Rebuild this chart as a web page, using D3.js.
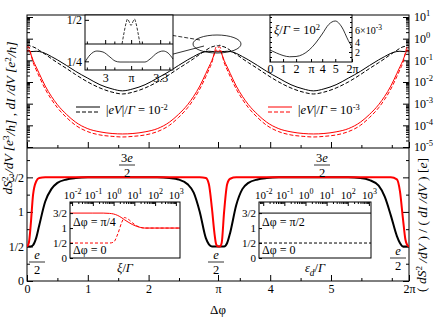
<!DOCTYPE html>
<html>
<head>
<meta charset="utf-8">
<script src="https://cdn.jsdelivr.net/npm/d3@7"></script>
<style>
body { margin: 0; background: #fff; }
text { font-family: "Liberation Serif", "DejaVu Serif", serif; fill: #000; }
</style>
</head>
<body>
<svg id="fig" width="436" height="319"></svg>
<script>
var PI = Math.PI;

// sample positions along delta phi (0 .. 2pi)
var phi = [0, 0.03, 0.06, 0.1, 0.15, 0.2, 0.3, 0.4, 0.5, 0.65, 0.8, 1.0, 1.2, 1.4, 1.571,
  1.742, 1.942, 2.142, 2.342, 2.492, 2.642, 2.742, 2.842, 2.942, 2.992, 3.042, 3.082, 3.112, 3.142,
  3.172, 3.202, 3.242, 3.292, 3.342, 3.442, 3.542, 3.642, 3.792, 3.942, 4.142, 4.342, 4.542, 4.712,
  4.884, 5.084, 5.284, 5.484, 5.634, 5.784, 5.884, 5.984, 6.084, 6.134, 6.184, 6.224, 6.254, 6.283];

// top panel, |eV|/Gamma = 1e-2 (black)
var blackSolid = [0.25, 0.25, 0.252, 0.256, 0.262, 0.255, 0.21, 0.15, 0.105, 0.058, 0.031, 0.015, 0.0075, 0.0048, 0.0039,
  0.0048, 0.0075, 0.015, 0.031, 0.058, 0.105, 0.15, 0.21, 0.255, 0.262, 0.256, 0.252, 0.25, 0.25,
  0.25, 0.252, 0.256, 0.262, 0.255, 0.21, 0.15, 0.105, 0.058, 0.031, 0.015, 0.0075, 0.0048, 0.0039,
  0.0048, 0.0075, 0.015, 0.031, 0.058, 0.105, 0.15, 0.21, 0.255, 0.262, 0.256, 0.252, 0.25, 0.25];
var blackDashed = [0.46, 0.5, 0.45, 0.42, 0.36, 0.29, 0.19, 0.12, 0.078, 0.042, 0.022, 0.010, 0.0053, 0.0034, 0.0028,
  0.0034, 0.0053, 0.010, 0.022, 0.042, 0.078, 0.12, 0.19, 0.29, 0.36, 0.42, 0.45, 0.5, 0.46,
  0.5, 0.45, 0.42, 0.36, 0.29, 0.19, 0.12, 0.078, 0.042, 0.022, 0.010, 0.0053, 0.0034, 0.0028,
  0.0034, 0.0053, 0.010, 0.022, 0.042, 0.078, 0.12, 0.19, 0.29, 0.36, 0.42, 0.45, 0.5, 0.46];
// top panel, |eV|/Gamma = 1e-3 (red)
var redSolid = [0.25, 0.3, 0.2, 0.1, 0.05, 0.025, 0.0065, 0.0022, 0.0009, 0.00032, 0.00014, 0.00007, 0.00005, 0.000042, 0.00004,
  0.000042, 0.00005, 0.00007, 0.00014, 0.00032, 0.0009, 0.0022, 0.0065, 0.025, 0.05, 0.1, 0.2, 0.3, 0.25,
  0.3, 0.2, 0.1, 0.05, 0.025, 0.0065, 0.0022, 0.0009, 0.00032, 0.00014, 0.00007, 0.00005, 0.000042, 0.00004,
  0.000042, 0.00005, 0.00007, 0.00014, 0.00032, 0.0009, 0.0022, 0.0065, 0.025, 0.05, 0.1, 0.2, 0.3, 0.25];
var redDashed = [0.4, 0.42, 0.22, 0.08, 0.037, 0.018, 0.0047, 0.0016, 0.00065, 0.00023, 0.0001, 0.000051, 0.000036, 0.000031, 0.000029,
  0.000031, 0.000036, 0.000051, 0.0001, 0.00023, 0.00065, 0.0016, 0.0047, 0.018, 0.037, 0.08, 0.22, 0.42, 0.4,
  0.42, 0.22, 0.08, 0.037, 0.018, 0.0047, 0.0016, 0.00065, 0.00023, 0.0001, 0.000051, 0.000036, 0.000031, 0.000029,
  0.000031, 0.000036, 0.000051, 0.0001, 0.00023, 0.00065, 0.0016, 0.0047, 0.018, 0.037, 0.08, 0.22, 0.42, 0.4];

// bottom panel, ratio (dS/dV)/(dI/dV) in units of e
var blackRatio = [0.5, 0.5, 0.5, 0.52, 0.62, 0.8, 1.15, 1.33, 1.42, 1.47, 1.49, 1.5, 1.5, 1.5, 1.5,
  1.5, 1.5, 1.5, 1.49, 1.47, 1.40, 1.28, 1.0, 0.62, 0.53, 0.5, 0.5, 0.5, 0.5,
  0.5, 0.5, 0.5, 0.55, 0.7, 1.1, 1.33, 1.42, 1.47, 1.49, 1.5, 1.5, 1.5, 1.5,
  1.5, 1.5, 1.5, 1.49, 1.46, 1.38, 1.22, 0.95, 0.65, 0.55, 0.5, 0.5, 0.5, 0.5];
var redRatio = [0.5, 0.55, 0.8, 1.25, 1.44, 1.49, 1.5, 1.5, 1.5, 1.5, 1.5, 1.5, 1.5, 1.5, 1.5,
  1.5, 1.5, 1.5, 1.5, 1.5, 1.5, 1.5, 1.5, 1.49, 1.4, 1.05, 0.7, 0.53, 0.5,
  0.5, 0.55, 1.0, 1.4, 1.48, 1.5, 1.5, 1.5, 1.5, 1.5, 1.5, 1.5, 1.5, 1.5,
  1.5, 1.5, 1.5, 1.5, 1.5, 1.5, 1.5, 1.5, 1.47, 1.3, 0.9, 0.6, 0.52, 0.5];

// inset near pi (top left)
var zoomPhiSolid = [2.89, 2.917, 2.955, 2.988, 3.026, 3.054, 3.081, 3.135, 3.217, 3.245, 3.283, 3.316, 3.343, 3.37];
var zoomSolid = [0.2492, 0.2573, 0.2619, 0.2608, 0.2550, 0.2504, 0.2492, 0.2492, 0.2492, 0.2527, 0.2596, 0.2619, 0.2596, 0.2527];
var zoomPhiDashed = [3.092, 3.103, 3.114, 3.122, 3.13, 3.141, 3.152, 3.16, 3.168, 3.179, 3.19];
var zoomDashed = [0.35, 0.42, 0.48, 0.505, 0.49, 0.465, 0.49, 0.505, 0.48, 0.42, 0.35];

// inset xi/Gamma = 1e2 (top right), values in units of 1e-3
var xiPhi = [0, 0.5, 1, 1.5, 2, 2.5, 3, 3.5, 4, 4.5, 5, 5.5, 6, 6.283];
var xiVal = [2.4, 1.8, 1.3, 1.05, 1.1, 1.5, 2.4, 3.8, 5.6, 7.5, 8.2, 7.0, 4.3, 3.0];

// inset vs xi/Gamma (bottom left), log10 of xi/Gamma
var xiLog = [-2.1, -1, -0.5, -0.2, 0, 0.2, 0.4, 0.52, 0.7, 0.9, 1.1, 1.3, 1.5, 2, 3, 3.2];
var pi4Ratio = [1.5, 1.5, 1.5, 1.49, 1.47, 1.42, 1.34, 1.28, 1.2, 1.12, 1.06, 1.02, 1.0, 1.0, 1.0, 1.0];
var zeroRatio = [0.5, 0.5, 0.5, 0.5, 0.53, 0.8, 1.2, 1.35, 1.3, 1.18, 1.08, 1.02, 1.0, 1.0, 1.0, 1.0];

// inset vs eps_d/Gamma (bottom right)
var epsLog = [-2.2, 3.1];
var pi2Ratio = [1.5, 1.5];
var eps0Ratio = [0.5, 0.5];

var svg = d3.select("#fig");

var x = d3.scaleLinear().domain([0, 2 * PI]).range([27, 409]);
var yTop = d3.scaleLog().domain([1e-5, 10]).range([147, 17]);
var yBot = d3.scaleLinear().domain([0, 1.925]).range([281, 148]);

// helper for mixed italic / superscript / subscript text
function rich(sel, parts, size) {
  parts.forEach(function (p) {
    var t = sel.append("tspan").text(p[0]);
    var st = p[1] || "";
    if (st.indexOf("i") >= 0) t.attr("font-style", "italic");
    if (st.indexOf("sup") >= 0) t.attr("dy", -size * 0.4).attr("font-size", size * 0.68);
    if (st.indexOf("sub") >= 0) t.attr("dy", size * 0.3).attr("font-size", size * 0.75);
    if (st.indexOf("down") >= 0) t.attr("dy", size * 0.4);
    if (st.indexOf("up") >= 0) t.attr("dy", -size * 0.3);
  });
  return sel;
}

function frac(g, cx, cy, num, den, size) {
  g.append("text").attr("x", cx).attr("y", cy - 3).attr("text-anchor", "middle")
    .attr("font-size", size).call(function (s) { rich(s, num, size); });
  g.append("line").attr("x1", cx - 8).attr("x2", cx + 8).attr("y1", cy).attr("y2", cy)
    .attr("stroke", "#000").attr("stroke-width", 0.8);
  g.append("text").attr("x", cx).attr("y", cy + size - 1).attr("text-anchor", "middle")
    .attr("font-size", size).text(den);
}

function logMinor(lo, hi) {
  var out = [];
  for (var k = lo; k < hi; k++)
    for (var m = 2; m < 10; m++) out.push(m * Math.pow(10, k));
  return out;
}

function styleAxis(g) {
  g.select(".domain").remove();
  g.selectAll(".tick line").attr("stroke", "#000");
  g.selectAll(".tick text").attr("font-family", "Liberation Serif").attr("font-size", 12).attr("fill", "#000");
}

// x axes
var xMajor = [0, 1, 2, PI, 4, 5, 2 * PI];
var xNames = ["0", "1", "2", "\u03c0", "4", "5", "2\u03c0"];
var xMinor = [0.5, 1.5, 2.5, 3.5, 4.5, 5.5, 6];

svg.append("g").attr("transform", "translate(0,281)")
  .call(d3.axisBottom(x).tickValues(xMajor).tickSize(-6).tickPadding(3)
    .tickFormat(function (d, i) { return xNames[i]; }))
  .call(styleAxis);
svg.append("g").attr("transform", "translate(0,281)")
  .call(d3.axisBottom(x).tickValues(xMinor).tickSize(-3).tickFormat(""))
  .call(styleAxis);
svg.append("g").attr("transform", "translate(0,148)")
  .call(d3.axisBottom(x).tickValues(xMajor).tickSize(-6).tickFormat(""))
  .call(styleAxis);
svg.append("g").attr("transform", "translate(0,148)")
  .call(d3.axisBottom(x).tickValues(xMinor).tickSize(-3).tickFormat(""))
  .call(styleAxis);

// top panel y axes (log)
var decades = [1e-5, 1e-4, 1e-3, 1e-2, 1e-1, 1, 10];
svg.append("g").attr("transform", "translate(27,0)")
  .call(d3.axisLeft(yTop).tickValues(decades).tickSize(-6).tickFormat(""))
  .call(styleAxis);
svg.append("g").attr("transform", "translate(27,0)")
  .call(d3.axisLeft(yTop).tickValues(logMinor(-5, 1)).tickSize(-3).tickFormat(""))
  .call(styleAxis);
var rightTop = svg.append("g").attr("transform", "translate(409,0)")
  .call(d3.axisRight(yTop).tickValues(decades).tickSize(-6).tickPadding(5))
  .call(styleAxis);
rightTop.selectAll(".tick text").each(function (d) {
  var t = d3.select(this).text("10");
  t.append("tspan").attr("dy", -5).attr("font-size", 8.5).text(Math.round(Math.log10(d)));
});
svg.append("g").attr("transform", "translate(409,0)")
  .call(d3.axisRight(yTop).tickValues(logMinor(-5, 1)).tickSize(-3).tickFormat(""))
  .call(styleAxis);

// bottom panel y axes
var bMajor = [0, 0.5, 1, 1.5];
var bNames = ["0", "1/2", "1", "3/2"];
var bMinor = [0.25, 0.75, 1.25, 1.75];
svg.append("g").attr("transform", "translate(27,0)")
  .call(d3.axisLeft(yBot).tickValues(bMajor).tickSize(-6).tickPadding(3)
    .tickFormat(function (d, i) { return bNames[i]; }))
  .call(styleAxis);
svg.append("g").attr("transform", "translate(27,0)")
  .call(d3.axisLeft(yBot).tickValues(bMinor).tickSize(-3).tickFormat(""))
  .call(styleAxis);
svg.append("g").attr("transform", "translate(409,0)")
  .call(d3.axisRight(yBot).tickValues(bMajor).tickSize(-6).tickFormat(""))
  .call(styleAxis);
svg.append("g").attr("transform", "translate(409,0)")
  .call(d3.axisRight(yBot).tickValues(bMinor).tickSize(-3).tickFormat(""))
  .call(styleAxis);

// frame
svg.append("rect").attr("x", 27).attr("y", 15).attr("width", 382).attr("height", 266)
  .attr("fill", "none").attr("stroke", "#000").attr("stroke-width", 1);
svg.append("line").attr("x1", 27).attr("x2", 409).attr("y1", 148).attr("y2", 148)
  .attr("stroke", "#000");

svg.append("clipPath").attr("id", "clipTop").append("rect")
  .attr("x", 27).attr("y", 15).attr("width", 382).attr("height", 133);
svg.append("clipPath").attr("id", "clipBot").append("rect")
  .attr("x", 27).attr("y", 148).attr("width", 382).attr("height", 133);

var lineTop = function (vals) {
  return d3.line().x(function (d, i) { return x(phi[i]); })
    .y(function (d) { return yTop(d); }).curve(d3.curveMonotoneX)(vals);
};
var lineBot = function (vals) {
  return d3.line().x(function (d, i) { return x(phi[i]); })
    .y(function (d) { return yBot(d); }).curve(d3.curveMonotoneX)(vals);
};

var gTop = svg.append("g").attr("clip-path", "url(#clipTop)");
[[blackSolid, "#000", null], [blackDashed, "#000", "4,2"], [redSolid, "#f00", null], [redDashed, "#f00", "4,2"]]
  .forEach(function (s) {
    gTop.append("path").attr("d", lineTop(s[0])).attr("fill", "none")
      .attr("stroke", s[1]).attr("stroke-width", 1).attr("stroke-dasharray", s[2]);
  });

var gBot = svg.append("g").attr("clip-path", "url(#clipBot)");
gBot.append("path").attr("d", lineBot(blackRatio)).attr("fill", "none").attr("stroke", "#000").attr("stroke-width", 2);
gBot.append("path").attr("d", lineBot(redRatio)).attr("fill", "none").attr("stroke", "#f00").attr("stroke-width", 2);

// legends
function legend(x0, y0, col, expo) {
  svg.append("line").attr("x1", x0).attr("x2", x0 + 24).attr("y1", y0).attr("y2", y0).attr("stroke", col);
  svg.append("line").attr("x1", x0).attr("x2", x0 + 24).attr("y1", y0 + 5).attr("y2", y0 + 5)
    .attr("stroke", col).attr("stroke-dasharray", "4,2");
  var t = svg.append("text").attr("x", x0 + 30).attr("y", y0 + 7).attr("font-size", 12.5);
  rich(t, [["|", ""], ["eV", "i"], ["|/", ""], ["\u0393", "i"], [" = 10", ""], [expo, "sup"]], 12.5);
}
legend(76, 107, "#000", "-2");
legend(268, 107, "#f00", "-3");

// ellipse and arrows
svg.append("ellipse").attr("cx", 217).attr("cy", 44).attr("rx", 24).attr("ry", 9)
  .attr("fill", "none").attr("stroke", "#000").attr("stroke-width", 0.8);
var defs = svg.append("defs");
defs.append("marker").attr("id", "arr").attr("viewBox", "0 0 10 10").attr("refX", 10).attr("refY", 5)
  .attr("markerWidth", 7).attr("markerHeight", 7).attr("orient", "auto")
  .append("path").attr("d", "M0,1 L10,5 L0,9 Z").attr("fill", "#000");
svg.append("line").attr("x1", 200).attr("y1", 40).attr("x2", 158).attr("y2", 33)
  .attr("stroke", "#000").attr("stroke-width", 0.8).attr("stroke-dasharray", "4,2").attr("marker-end", "url(#arr)");
svg.append("line").attr("x1", 204).attr("y1", 46).attr("x2", 158).attr("y2", 58)
  .attr("stroke", "#000").attr("stroke-width", 0.8).attr("marker-end", "url(#arr)");

// inset: zoom near pi
var izx = d3.scaleLinear().domain([2.89, 3.37]).range([85, 173]);
var izTop = d3.scaleLinear().domain([0.35, 0.53]).range([44, 15]);
var izBot = d3.scaleLinear().domain([0.24, 0.27]).range([70, 44]);
var iz = svg.append("g");
iz.append("rect").attr("x", 85).attr("y", 15).attr("width", 88).attr("height", 55).attr("fill", "#fff");
iz.append("clipPath").attr("id", "clipIz").append("rect").attr("x", 85).attr("y", 15).attr("width", 88).attr("height", 29);
iz.append("path").attr("clip-path", "url(#clipIz)")
  .attr("d", d3.line().x(function (d, i) { return izx(zoomPhiDashed[i]); }).y(function (d) { return izTop(d); })
    .curve(d3.curveMonotoneX)(zoomDashed))
  .attr("fill", "none").attr("stroke", "#000").attr("stroke-width", 0.8).attr("stroke-dasharray", "3,1.5");
iz.append("path")
  .attr("d", d3.line().x(function (d, i) { return izx(zoomPhiSolid[i]); }).y(function (d) { return izBot(d); })
    .curve(d3.curveMonotoneX)(zoomSolid))
  .attr("fill", "none").attr("stroke", "#000").attr("stroke-width", 0.8);
[44, 70].forEach(function (yy) {
  iz.append("g").attr("transform", "translate(0," + yy + ")")
    .call(d3.axisBottom(izx).tickValues([3, PI, 3.3]).tickSize(-4).tickFormat(""))
    .call(styleAxis);
  iz.append("g").attr("transform", "translate(0," + yy + ")")
    .call(d3.axisBottom(izx).tickValues([2.9, 3.05, 3.2, 3.35]).tickSize(-2.5).tickFormat(""))
    .call(styleAxis);
});
iz.append("g").attr("transform", "translate(0,70)")
  .call(d3.axisBottom(izx).tickValues([3, PI, 3.3]).tickSize(0).tickPadding(3)
    .tickFormat(function (d, i) { return ["3", "\u03c0", "3.3"][i]; }))
  .call(styleAxis);
iz.append("g").attr("transform", "translate(85,0)")
  .call(d3.axisLeft(izTop).tickValues([0.5]).tickSize(-4).tickPadding(3).tickFormat(function () { return "1/2"; }))
  .call(styleAxis);
iz.append("g").attr("transform", "translate(85,0)")
  .call(d3.axisLeft(izBot).tickValues([0.25]).tickSize(-4).tickPadding(3).tickFormat(function () { return "1/4"; }))
  .call(styleAxis);
iz.append("rect").attr("x", 85).attr("y", 15).attr("width", 88).attr("height", 55)
  .attr("fill", "none").attr("stroke", "#000");
iz.append("line").attr("x1", 85).attr("x2", 173).attr("y1", 44).attr("y2", 44).attr("stroke", "#000");

// inset: xi/Gamma = 1e2
var ixx = d3.scaleLinear().domain([0, 2 * PI]).range([270, 352]);
var ixy = d3.scaleLinear().domain([0, 9.4]).range([62, 15]);
var ix = svg.append("g");
ix.append("rect").attr("x", 270).attr("y", 15).attr("width", 82).attr("height", 47).attr("fill", "#fff");
ix.append("path")
  .attr("d", d3.line().x(function (d, i) { return ixx(xiPhi[i]); }).y(function (d) { return ixy(d); })
    .curve(d3.curveMonotoneX)(xiVal))
  .attr("fill", "none").attr("stroke", "#000").attr("stroke-width", 0.8);
ix.append("g").attr("transform", "translate(0,62)")
  .call(d3.axisBottom(ixx).tickValues([0, 1, 2, PI, 4, 5, 2 * PI]).tickSize(-3).tickPadding(2)
    .tickFormat(function (d, i) { return ["0", "1", "2", "\u03c0", "4", "5", "2\u03c0"][i]; }))
  .call(styleAxis);
var ixRight = ix.append("g").attr("transform", "translate(352,0)")
  .call(d3.axisRight(ixy).tickValues([2, 4, 6]).tickSize(-3).tickPadding(3))
  .call(styleAxis);
ixRight.selectAll(".tick text").attr("font-size", 10);
ixRight.selectAll(".tick text").filter(function (d) { return d === 6; }).attr("dy", "0.1em").each(function () {
  var t = d3.select(this).text("6\u00d710");
  t.append("tspan").attr("dy", -4).attr("font-size", 7.5).text("-3");
});
ix.append("g").attr("transform", "translate(352,0)")
  .call(d3.axisRight(ixy).tickValues([1, 3, 5, 7, 8, 9]).tickSize(-2).tickFormat(""))
  .call(styleAxis);
ix.append("g").attr("transform", "translate(270,0)")
  .call(d3.axisLeft(ixy).tickValues([1, 2, 3, 4, 5, 6, 7, 8, 9]).tickSize(-2).tickFormat(""))
  .call(styleAxis);
ix.append("rect").attr("x", 270).attr("y", 15).attr("width", 82).attr("height", 47)
  .attr("fill", "none").attr("stroke", "#000");
var xt = ix.append("text").attr("x", 274).attr("y", 34).attr("font-size", 12.5);
rich(xt, [["\u03be", "i"], ["/", ""], ["\u0393", "i"], [" = 10", ""], ["2", "sup"]], 12.5);

// bottom insets
function insetBox(x0, x1, logDom, lines, col, lab1, lab2, xlab) {
  var sx = d3.scaleLinear().domain(logDom).range([x0, x1]);
  var sy = d3.scaleLinear().domain([0, 1.87]).range([258, 202]);
  var g = svg.append("g");
  g.append("rect").attr("x", x0).attr("y", 202).attr("width", x1 - x0).attr("height", 56).attr("fill", "#fff");
  lines.forEach(function (l) {
    g.append("path")
      .attr("d", d3.line().x(function (d, i) { return sx(l.xs[i]); }).y(function (d) { return sy(d); })
        .curve(d3.curveMonotoneX)(l.ys))
      .attr("fill", "none").attr("stroke", col).attr("stroke-width", 1).attr("stroke-dasharray", l.dash);
  });
  // top log axis
  var dec = [-2, -1, 0, 1, 2, 3];
  var minor = [];
  for (var k = -3; k <= 3; k++) for (var m = 2; m < 10; m++) {
    var v = k + Math.log10(m);
    if (v > logDom[0] && v < logDom[1]) minor.push(v);
  }
  var ta = g.append("g").attr("transform", "translate(0,202)")
    .call(d3.axisTop(sx).tickValues(dec).tickSize(-4).tickPadding(3))
    .call(styleAxis);
  ta.selectAll(".tick text").each(function (d) {
    var t = d3.select(this).text("10");
    t.append("tspan").attr("dy", -5).attr("font-size", 8).text(d);
  });
  g.append("g").attr("transform", "translate(0,202)")
    .call(d3.axisTop(sx).tickValues(minor).tickSize(-2).tickFormat(""))
    .call(styleAxis);
  g.append("g").attr("transform", "translate(" + x0 + ",0)")
    .call(d3.axisLeft(sy).tickValues([0, 0.5, 1, 1.5]).tickSize(-3).tickPadding(3)
      .tickFormat(function (d, i) { return ["0", "1/2", "1", "3/2"][i]; }))
    .call(styleAxis);
  g.selectAll("text").attr("font-size", 11);
  g.selectAll("tspan").attr("font-size", 8);
  g.append("rect").attr("x", x0).attr("y", 202).attr("width", x1 - x0).attr("height", 56)
    .attr("fill", "none").attr("stroke", "#000");
  var t1 = g.append("text").attr("x", x0 + 3).attr("y", 226).attr("font-size", 12);
  rich(t1, lab1, 12);
  var t2 = g.append("text").attr("x", x0 + 3).attr("y", 254).attr("font-size", 12);
  rich(t2, lab2, 12);
  var t3 = g.append("text").attr("x", (x0 + x1) / 2).attr("y", 272).attr("text-anchor", "middle").attr("font-size", 12.5);
  rich(t3, xlab, 12.5);
}
insetBox(70, 180, [-2.1, 3.2],
  [{ xs: xiLog, ys: pi4Ratio, dash: null }, { xs: xiLog, ys: zeroRatio, dash: "3,2" }], "#f00",
  [["\u0394\u03c6 = \u03c0/4", ""]], [["\u0394\u03c6 = 0", ""]], [["\u03be", "i"], ["/", ""], ["\u0393", "i"]]);
insetBox(259, 371, [-2.2, 3.1],
  [{ xs: epsLog, ys: pi2Ratio, dash: null }, { xs: epsLog, ys: eps0Ratio, dash: "3,2" }], "#000",
  [["\u0394\u03c6 = \u03c0/2", ""]], [["\u0394\u03c6 = 0", ""]],
  [["\u03b5", "i"], ["d", "isub"], ["/", "up"], ["\u0393", "i"]]);

// charge fraction labels
frac(svg, 127, 165, [["3", ""], ["e", "i"]], "2", 12.5);
frac(svg, 322, 165, [["3", ""], ["e", "i"]], "2", 12.5);
frac(svg, 37, 262, [["e", "i"]], "2", 12.5);
frac(svg, 216, 262, [["e", "i"]], "2", 12.5);
frac(svg, 398, 258, [["e", "i"]], "2", 12.5);

// axis titles
var yl = svg.append("text").attr("transform", "translate(12,118) rotate(-90)")
  .attr("text-anchor", "middle").attr("font-size", 13.5);
rich(yl, [["dS", "i"], ["2", "sup"], [" /dV  [e", "idown"], ["3", "sup"], ["/h]   ,  dI /dV  [e", "idown"], ["2", "sup"], ["/h]", "idown"]], 13.5);
var yr = svg.append("text").attr("transform", "translate(426,225) rotate(-90)")
  .attr("text-anchor", "middle").attr("font-size", 13.5);
rich(yr, [["( ", ""], ["dS", "i"], ["2", "sup"], [" /dV", "idown"], [" )  /  ( ", ""], ["dI /dV", "i"], [" )  [", ""], ["e", "i"], ["]", ""]], 13.5);
svg.append("text").attr("x", 218).attr("y", 314).attr("text-anchor", "middle").attr("font-size", 13)
  .text("\u0394\u03c6");
</script>
</body>
</html>
